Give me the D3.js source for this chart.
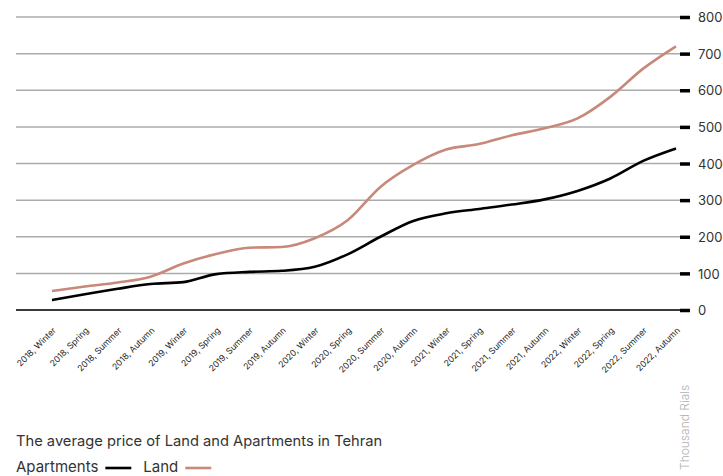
<!DOCTYPE html>
<html>
<head>
<meta charset="utf-8">
<script src="https://cdn.jsdelivr.net/npm/d3@7"></script>
<style>
  body { margin: 0; background: #fff; }
  svg { display: block; font-family: Inter, "Noto Sans", sans-serif; }
</style>
</head>
<body>
<svg id="chart" width="723" height="476"></svg>
<script>
// seasons along the x axis
var periods = [
    "2018, Winter", "2018, Spring", "2018, Summer", "2018, Autumn",
    "2019, Winter", "2019, Spring", "2019, Summer", "2019, Autumn",
    "2020, Winter", "2020, Spring", "2020, Summer", "2020, Autumn",
    "2021, Winter", "2021, Spring", "2021, Summer", "2021, Autumn",
    "2022, Winter", "2022, Spring", "2022, Summer", "2022, Autumn"
];

// thousand rials per square metre
var apartments = [27, 43, 58, 71, 76, 98, 104, 107, 118, 152, 200, 243, 264, 276, 288, 302, 325, 359, 407, 441];
var land = [52, 64, 75, 91, 127, 153, 170, 172, 196, 245, 336, 396, 438, 453, 477, 496, 523, 582, 659, 720];

var yTicks = [0, 100, 200, 300, 400, 500, 600, 700, 800];

var title = "The average price of Land and Apartments in Tehran";
var unitLabel = "Thousand Rials";

(function() {
    "use strict";

    var svg = d3.select("#chart");

    var gridLeft = 16, gridRight = 680;

    var x = d3.scalePoint()
        .domain(periods)
        .range([52, 676]);

    var y = d3.scaleLinear()
        .domain([0, 800])
        .range([310, 17]);

    // horizontal grid lines
    svg.append("g").selectAll("line")
        .data(yTicks)
        .enter().append("line")
        .attr("x1", gridLeft).attr("x2", gridRight)
        .attr("y1", function(d) { return y(d); })
        .attr("y2", function(d) { return y(d); })
        .attr("stroke", function(d) { return d === 0 ? "#3a3a3a" : "#ababab"; })
        .attr("stroke-width", function(d) { return d === 0 ? 2 : 1.5; });

    // right axis: short black dashes + labels
    var yAxis = d3.axisRight(y)
        .tickValues(yTicks)
        .tickSize(0)
        .tickPadding(0)
        .tickFormat(d3.format("d"));

    var ax = svg.append("g")
        .attr("transform", "translate(" + gridRight + ",0)")
        .call(yAxis);
    ax.select(".domain").remove();
    ax.selectAll(".tick").append("rect")
        .attr("x", 0).attr("y", -1.75)
        .attr("width", 10).attr("height", 3.5)
        .attr("fill", "#000");
    ax.selectAll(".tick text")
        .attr("x", 18)
        .attr("dy", "0.36em")
        .attr("fill", "#333")
        .style("font-size", "13px")
        .style("font-family", "Inter, sans-serif");

    // x labels, rotated
    var xAxis = d3.axisBottom(x).tickSize(0).tickPadding(0);
    var bx = svg.append("g")
        .attr("transform", "translate(0,327)")
        .call(xAxis);
    bx.select(".domain").remove();
    bx.selectAll(".tick text")
        .attr("text-anchor", "end")
        .attr("dy", 0)
        .attr("y", 0)
        .attr("transform", "translate(4,4) rotate(-45)")
        .attr("fill", "#222")
        .style("font-size", "8.6px")
        .style("font-family", "Inter, sans-serif");

    var line = d3.line()
        .x(function(d, i) { return x(periods[i]); })
        .y(function(d) { return y(d); })
        .curve(d3.curveMonotoneX);

    svg.append("path")
        .datum(land)
        .attr("fill", "none")
        .attr("stroke", "#c8887a")
        .attr("stroke-width", 2.6)
        .attr("d", line);

    svg.append("path")
        .datum(apartments)
        .attr("fill", "none")
        .attr("stroke", "#000")
        .attr("stroke-width", 2.6)
        .attr("d", line);

    // unit label, vertical
    svg.append("text")
        .attr("transform", "translate(689,470) rotate(-90)")
        .attr("fill", "#b0b0b0")
        .style("font-size", "12px")
        .style("font-weight", 300)
        .text(unitLabel);

    // title + legend
    svg.append("text")
        .attr("x", 16).attr("y", 446)
        .attr("fill", "#333")
        .style("font-size", "14.7px")
        .text(title);

    var legend = svg.append("g").attr("transform", "translate(16,472)");
    var lx = 0;
    [{name: "Apartments", color: "#000"}, {name: "Land", color: "#c8887a"}].forEach(function(s) {
        var t = legend.append("text")
            .attr("x", lx).attr("y", 0)
            .attr("fill", "#333")
            .style("font-size", "15px")
            .text(s.name);
        var w = t.node().getComputedTextLength();
        legend.append("line")
            .attr("x1", lx + w + 7).attr("x2", lx + w + 33)
            .attr("y1", -4).attr("y2", -4)
            .attr("stroke", s.color)
            .attr("stroke-width", 2.6);
        lx += w + 45;
    });
}());
</script>
</body>
</html>
